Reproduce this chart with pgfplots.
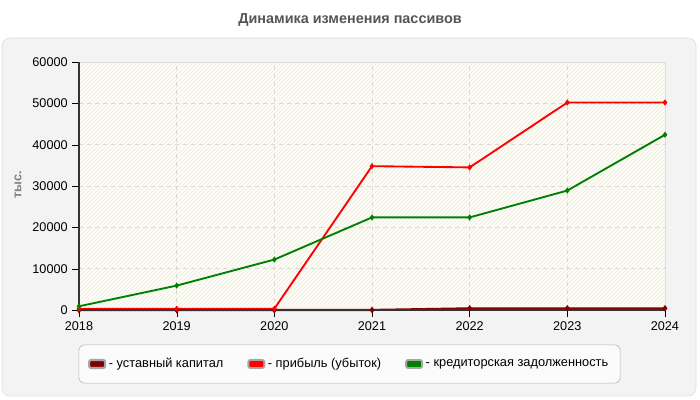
\documentclass[border=0pt]{standalone}
\usepackage{fontspec}
\setmainfont{Liberation Sans}
\usepackage{pgfplots}
\pgfplotsset{compat=1.18}
\usetikzlibrary{patterns}
\definecolor{panelGray}{RGB}{243,243,243}
\definecolor{panelEdge}{RGB}{221,221,221}
\definecolor{plotCream}{RGB}{253,253,246}
\definecolor{hatchCream}{RGB}{236,236,228}
\definecolor{gridGray}{RGB}{215,215,215}
\definecolor{titleGray}{RGB}{85,85,85}
\definecolor{capDark}{RGB}{128,0,0}
\definecolor{profitRed}{RGB}{255,0,0}
\definecolor{debtGreen}{RGB}{0,128,0}

\begin{document}
\begin{tikzpicture}
  % canvas, panel and title (pixel units)
  \begin{scope}[x=0.75pt,y=0.75pt]
    \fill[white] (0,0) rectangle (700,400);
    \filldraw[fill=panelGray, draw=panelEdge, rounded corners=6pt] (2,4) rectangle (696,362);
    \node[font=\bfseries\fontsize{10.8}{12}\selectfont, text=titleGray] at (350,380) {Динамика изменения пассивов};
    \node[font=\bfseries\fontsize{9.5}{11}\selectfont, text=gray, rotate=90] at (18,215) {тыс.};
  \end{scope}

  \begin{axis}[
      at={(59.25pt,67.5pt)}, anchor=south west,
      scale only axis,
      width=439.5pt, height=186pt,
      xmin=2018, xmax=2024,
      ymin=0, ymax=60000,
      xtick={2018,...,2024},
      ytick={0,10000,...,60000},
      /pgf/number format/1000 sep={},
      /pgf/number format/assume math mode=true,
      ticklabel style={font=\fontsize{9.5}{11}\selectfont},
      scaled y ticks=false,
      xtick pos=bottom, ytick pos=left,
      tick align=outside,
      major tick length=5pt,
      tick style={black},
      axis line style={draw=panelEdge},
      grid=major,
      grid style={dashed, gridGray},
      axis background/.style={fill=plotCream,
        postaction={pattern=north east lines, pattern color=hatchCream}},
      clip=false,
      legend columns=3,
      legend cell align=left,
      legend style={
        at={(0.4616,-0.2177)}, anchor=center,
        font=\fontsize{9.6}{11}\selectfont,
        draw=gray!60, fill=white!97!gray, rounded corners=4pt,
        inner xsep=7pt, inner ysep=8pt,
        /tikz/every even column/.append style={column sep=16pt},
      },
      legend image code/.code={
        \filldraw[draw=gray!70, rounded corners=1.5pt] (0pt,-3pt) rectangle (12pt,3pt);
      },
    ]
    \addplot[capDark, line width=1.6pt, mark=diamond*, mark size=1.2pt] coordinates {
      (2018,0) (2019,0) (2020,0) (2021,10) (2022,400) (2023,400) (2024,400)
    };
    \addlegendentry{- уставный капитал}
    \addplot[profitRed, line width=1.4pt, mark=diamond*, mark size=1.2pt] coordinates {
      (2018,300) (2019,300) (2020,300) (2021,34800) (2022,34500) (2023,50200) (2024,50200)
    };
    \addlegendentry{- прибыль (убыток)}
    \addplot[debtGreen, line width=1.4pt, mark=diamond*, mark size=1.2pt] coordinates {
      (2018,900) (2019,5900) (2020,12200) (2021,22400) (2022,22400) (2023,28900) (2024,42400)
    };
    \addlegendentry{- кредиторская задолженность}
    \draw[black!80, line width=0.8pt] (rel axis cs:0,0) -- (rel axis cs:0,1);
    \draw[black!80, line width=0.8pt] (rel axis cs:0,0) -- (rel axis cs:1,0);
  \end{axis}
\end{tikzpicture}
\end{document}
